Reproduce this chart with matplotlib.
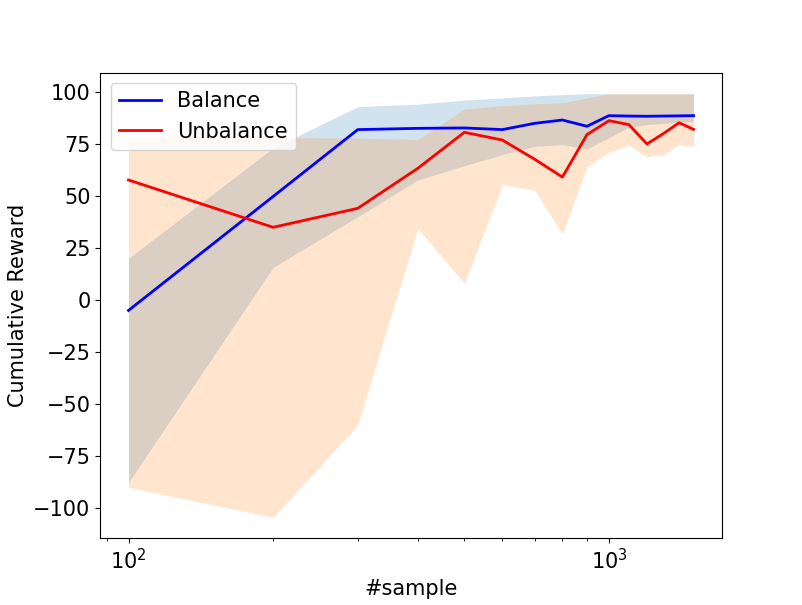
import matplotlib
matplotlib.use("Agg")
import matplotlib.pyplot as plt
import numpy as np

samples = [100, 200, 300, 400, 500, 600, 700, 800, 900, 1000, 1100, 1200, 1300, 1400, 1500]

balance_mean = [-5, 49.7, 81.8, 82.4, 82.6, 81.8, 84.8, 86.4, 83.4, 88.5, 88.3, 88.2, 88.3, 88.4, 88.5]
balance_low = [-87.5, 15.7, 40, 57.6, 64.5, 69.8, 73.8, 74.6, 72.5, 78, 82.9, 84.2, 84.8, 85.3, 85.8]
balance_high = [20, 73, 92.8, 94, 96, 97, 98, 98.6, 99, 99, 99, 99, 99, 99, 99]

unbalance_mean = [57.6, 34.9, 44, 63.2, 80.5, 76.8, 67.6, 59, 79.4, 86.1, 84.2, 74.9, 80, 85.1, 81.9]
unbalance_low = [-89.9, -104.3, -60, 34.4, 8, 55.4, 52.8, 31.7, 64, 70.9, 74.4, 68.8, 69.8, 74.6, 73.8]
unbalance_high = [78.2, 78, 77.8, 77, 91.7, 93.3, 94.2, 94.7, 97, 99, 99, 99, 99, 99, 99]

plt.rcParams['font.size'] = 15
fig, ax = plt.subplots(figsize=(8.02, 6.05), dpi=100)

ax.plot(samples, balance_mean, color='blue', linewidth=2, label='Balance')
ax.fill_between(samples, balance_low, balance_high, color='C0', alpha=0.2, linewidth=0)
ax.plot(samples, unbalance_mean, color='red', linewidth=2, label='Unbalance')
ax.fill_between(samples, unbalance_low, unbalance_high, color='C1', alpha=0.2, linewidth=0)

ax.set_xscale('log')
ax.set_xlabel('#sample')
ax.set_ylabel('Cumulative Reward')
ax.legend(loc='upper left')

fig.savefig('out.png', dpi=100)
